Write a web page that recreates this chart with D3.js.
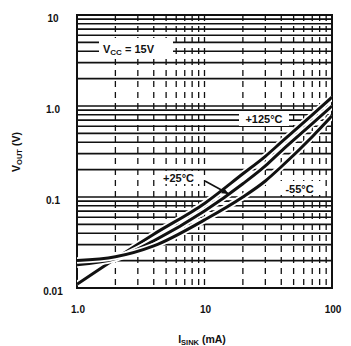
<!DOCTYPE html>
<html>
<head>
<meta charset="utf-8">
<script src="https://cdn.jsdelivr.net/npm/d3@7"></script>
<style>
  html, body { margin: 0; padding: 0; background: #fff; }
  svg text { font-family: "Liberation Sans", Arial, sans-serif; font-weight: bold; fill: #111; }
</style>
</head>
<body>
<svg id="chart" width="351" height="346"></svg>
<script>
// Output voltage vs. sink current, three junction temperatures
const sinkCurrent = [1, 2, 4, 10, 20, 30, 40, 70, 100];          // mA
const vout125 = [0.011, 0.021, 0.039, 0.085, 0.18, 0.28, 0.40, 0.80, 1.25]; // V, +125°C
const vout25  = [0.018, 0.021, 0.033, 0.070, 0.14, 0.22, 0.32, 0.64, 1.00]; // V, +25°C
const voutM55 = [0.020, 0.022, 0.029, 0.056, 0.10, 0.15, 0.215, 0.46, 0.78]; // V, -55°C

const xTickValues = [1, 10, 100];
const xTickLabels = ["1.0", "10", "100"];
const yTickValues = [0.01, 0.1, 1, 10];
const yTickLabels = ["0.01", "0.1", "1.0", "10"];

const svg = d3.select("#chart");
const plotL = 77, plotR = 332, plotT = 15, plotB = 288;

const x = d3.scaleLog().domain([1, 100]).range([plotL, plotR]);
const y = d3.scaleLog().domain([0.01, 10]).range([plotB, plotT]);

// minor grid values for each decade
const xGrid = [];
[1, 10].forEach(d => { for (let k = 2; k <= 9; k++) xGrid.push(d * k); });
xGrid.push(10);
const yGrid = [];
[0.01, 0.1, 1].forEach(d => { for (let k = 2; k <= 9; k++) yGrid.push(d * k); });
yGrid.push(0.1, 1);

const g = svg.append("g");

// vertical grid: dashed
g.selectAll("line.vg").data(xGrid).join("line")
  .attr("class", "vg")
  .attr("x1", d => x(d)).attr("x2", d => x(d))
  .attr("y1", plotT).attr("y2", plotB)
  .attr("stroke", "#111").attr("stroke-width", 1.3)
  .attr("stroke-dasharray", "6,5");

// horizontal grid: solid
g.selectAll("line.hg").data(yGrid).join("line")
  .attr("class", "hg")
  .attr("x1", plotL).attr("x2", plotR)
  .attr("y1", d => y(d)).attr("y2", d => y(d))
  .attr("stroke", "#111").attr("stroke-width", 1.6);

// frame
g.append("rect")
  .attr("x", plotL).attr("y", plotT)
  .attr("width", plotR - plotL).attr("height", plotB - plotT)
  .attr("fill", "none").attr("stroke", "#111").attr("stroke-width", 2);

// label boxes that mask the grid
function box(x0, y0, w, h) {
  g.append("rect").attr("x", x0).attr("y", y0).attr("width", w).attr("height", h).attr("fill", "#fff");
}
box(99, 38, 74, 19);
box(239, 111, 50, 15);
box(157, 171, 43, 13);
box(279, 181, 42, 14);

// curves
const line = d3.line()
  .x(d => x(d[0])).y(d => y(d[1]))
  .curve(d3.curveMonotoneX);
const series = [vout125, vout25, voutM55].map(v => sinkCurrent.map((c, i) => [c, v[i]]));

svg.append("defs").append("clipPath").attr("id", "plotClip")
  .append("rect").attr("x", plotL).attr("y", plotT).attr("width", plotR - plotL).attr("height", plotB - plotT);
const curves = g.append("g").attr("clip-path", "url(#plotClip)");
series.forEach(s => {
  curves.append("path").datum(s).attr("d", line)
    .attr("fill", "none").attr("stroke", "#fff").attr("stroke-width", 6.5);
  curves.append("path").datum(s).attr("d", line)
    .attr("fill", "none").attr("stroke", "#111").attr("stroke-width", 3);
});

// annotations
const vcc = g.append("text").attr("x", 103).attr("y", 53).attr("font-size", 11);
vcc.append("tspan").text("V");
vcc.append("tspan").attr("font-size", 8).attr("dy", 2).text("CC");
vcc.append("tspan").attr("dy", -2).text(" = 15V");

g.append("text").attr("x", 264).attr("y", 123).attr("text-anchor", "middle")
  .attr("font-size", 11).text("+125°C");
g.append("text").attr("x", 178.5).attr("y", 181.5).attr("text-anchor", "middle")
  .attr("font-size", 11).text("+25°C");
g.append("text").attr("x", 299.5).attr("y", 192.5).attr("text-anchor", "middle")
  .attr("font-size", 11).text("-55°C");

// arrow from the +25°C label to its curve
const ax0 = 205, ay0 = 181, ax1 = x(15.5), ay1 = y(0.108);
g.append("line").attr("x1", ax0).attr("y1", ay0).attr("x2", ax1).attr("y2", ay1)
  .attr("stroke", "#111").attr("stroke-width", 1.6);
const ang = Math.atan2(ay1 - ay0, ax1 - ax0);
const ah = 7, aw = 3;
g.append("path")
  .attr("d", `M${ax1},${ay1}
    L${ax1 - ah * Math.cos(ang) + aw * Math.sin(ang)},${ay1 - ah * Math.sin(ang) - aw * Math.cos(ang)}
    L${ax1 - ah * Math.cos(ang) - aw * Math.sin(ang)},${ay1 - ah * Math.sin(ang) + aw * Math.cos(ang)}Z`)
  .attr("fill", "#111");

// tick labels
svg.selectAll("text.yt").data(yTickValues).join("text")
  .attr("class", "yt")
  .attr("x", 53).attr("y", d => y(d) + 6.5)
  .attr("text-anchor", "middle").attr("font-size", 10)
  .text((d, i) => yTickLabels[i]);

svg.selectAll("text.xt").data(xTickValues).join("text")
  .attr("class", "xt")
  .attr("x", d => x(d) + 1).attr("y", 313)
  .attr("text-anchor", "middle").attr("font-size", 10)
  .text((d, i) => xTickLabels[i]);

// axis titles
const yt = svg.append("text")
  .attr("transform", "translate(20,152) rotate(-90)")
  .attr("text-anchor", "middle").attr("font-size", 10.5);
yt.append("tspan").text("V");
yt.append("tspan").attr("font-size", 7.5).attr("dy", 2).text("OUT");
yt.append("tspan").attr("dy", -2).text(" (V)");

const xt = svg.append("text")
  .attr("x", 202).attr("y", 343)
  .attr("text-anchor", "middle").attr("font-size", 10.5);
xt.append("tspan").text("I");
xt.append("tspan").attr("font-size", 7.5).attr("dy", 2).text("SINK");
xt.append("tspan").attr("dy", -2).text(" (mA)");
</script>
</body>
</html>
